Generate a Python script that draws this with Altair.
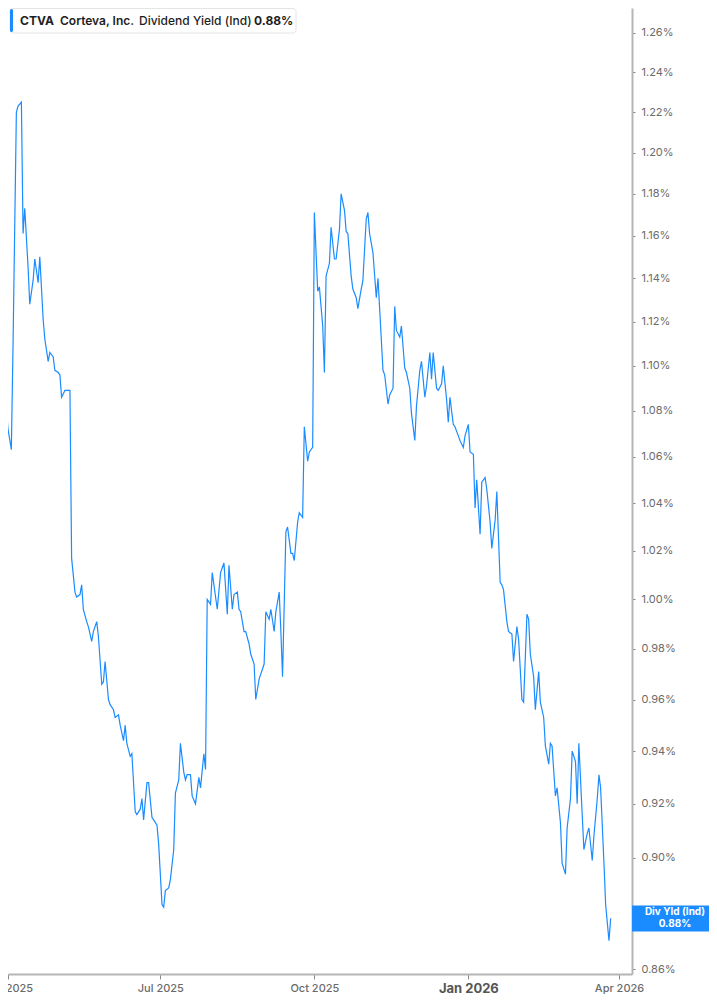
import altair as alt
import pandas as pd

# ---- data ----
dates = [
    "2025-03-27", "2025-03-29", "2025-03-31", "2025-04-01", "2025-04-03", "2025-04-04",
    "2025-04-06", "2025-04-07", "2025-04-08", "2025-04-09", "2025-04-10", "2025-04-11",
    "2025-04-13", "2025-04-14", "2025-04-16", "2025-04-17", "2025-04-19", "2025-04-20",
    "2025-04-22", "2025-04-23", "2025-04-25", "2025-04-26", "2025-04-28", "2025-04-29",
    "2025-05-01", "2025-05-02", "2025-05-03", "2025-05-05", "2025-05-06", "2025-05-08",
    "2025-05-09", "2025-05-11", "2025-05-12", "2025-05-14", "2025-05-15", "2025-05-16",
    "2025-05-18", "2025-05-19", "2025-05-21", "2025-05-22", "2025-05-24", "2025-05-25",
    "2025-05-27", "2025-05-28", "2025-05-29", "2025-05-31", "2025-06-01", "2025-06-03",
    "2025-06-04", "2025-06-06", "2025-06-07", "2025-06-09", "2025-06-10", "2025-06-11",
    "2025-06-13", "2025-06-14", "2025-06-16", "2025-06-17", "2025-06-19", "2025-06-20",
    "2025-06-21", "2025-06-23", "2025-06-24", "2025-06-26", "2025-06-27", "2025-06-29",
    "2025-06-30", "2025-07-02", "2025-07-03", "2025-07-04", "2025-07-06", "2025-07-07",
    "2025-07-09", "2025-07-10", "2025-07-12", "2025-07-13", "2025-07-15", "2025-07-16",
    "2025-07-17", "2025-07-19", "2025-07-20", "2025-07-22", "2025-07-24", "2025-07-25",
    "2025-07-27", "2025-07-28", "2025-07-29", "2025-07-31", "2025-08-01", "2025-08-03",
    "2025-08-04", "2025-08-06", "2025-08-07", "2025-08-08", "2025-08-10", "2025-08-11",
    "2025-08-13", "2025-08-14", "2025-08-16", "2025-08-17", "2025-08-18", "2025-08-20",
    "2025-08-21", "2025-08-23", "2025-08-24", "2025-08-26", "2025-08-27", "2025-08-29",
    "2025-08-30", "2025-09-01", "2025-09-02", "2025-09-04", "2025-09-05", "2025-09-07",
    "2025-09-08", "2025-09-10", "2025-09-11", "2025-09-12", "2025-09-14", "2025-09-15",
    "2025-09-17", "2025-09-18", "2025-09-19", "2025-09-21", "2025-09-22", "2025-09-24",
    "2025-09-25", "2025-09-27", "2025-09-28", "2025-09-30", "2025-10-01", "2025-10-03",
    "2025-10-04", "2025-10-06", "2025-10-07", "2025-10-08", "2025-10-10", "2025-10-11",
    "2025-10-13", "2025-10-14", "2025-10-16", "2025-10-17", "2025-10-19", "2025-10-20",
    "2025-10-21", "2025-10-23", "2025-10-24", "2025-10-26", "2025-10-27", "2025-10-29",
    "2025-10-30", "2025-11-01", "2025-11-02", "2025-11-03", "2025-11-05", "2025-11-07",
    "2025-11-08", "2025-11-09", "2025-11-11", "2025-11-12", "2025-11-14", "2025-11-15",
    "2025-11-17", "2025-11-18", "2025-11-19", "2025-11-21", "2025-11-22", "2025-11-24",
    "2025-11-25", "2025-11-27", "2025-11-28", "2025-11-30", "2025-12-01", "2025-12-03",
    "2025-12-04", "2025-12-06", "2025-12-07", "2025-12-09", "2025-12-10", "2025-12-11",
    "2025-12-13", "2025-12-14", "2025-12-16", "2025-12-17", "2025-12-19", "2025-12-20",
    "2025-12-21", "2025-12-23", "2025-12-24", "2025-12-26", "2025-12-27", "2025-12-29",
    "2025-12-30", "2026-01-01", "2026-01-02", "2026-01-04", "2026-01-05", "2026-01-06",
    "2026-01-08", "2026-01-09", "2026-01-11", "2026-01-12", "2026-01-14", "2026-01-15",
    "2026-01-17", "2026-01-18", "2026-01-20", "2026-01-21", "2026-01-22", "2026-01-24",
    "2026-01-25", "2026-01-27", "2026-01-28", "2026-01-30", "2026-01-31", "2026-02-02",
    "2026-02-03", "2026-02-05", "2026-02-06", "2026-02-07", "2026-02-09", "2026-02-10",
    "2026-02-12", "2026-02-13", "2026-02-15", "2026-02-16", "2026-02-18", "2026-02-19",
    "2026-02-20", "2026-02-22", "2026-02-23", "2026-02-25", "2026-02-26", "2026-02-28",
    "2026-03-01", "2026-03-03", "2026-03-04", "2026-03-06", "2026-03-07", "2026-03-08",
    "2026-03-10", "2026-03-11", "2026-03-13", "2026-03-14", "2026-03-16", "2026-03-17",
    "2026-03-19", "2026-03-20", "2026-03-21", "2026-03-23", "2026-03-24", "2026-03-26",
    "2026-03-27",
]

yields = [
    1.087, 1.113, 1.081, 1.072, 1.063, 1.109,
    1.220, 1.223, 1.224, 1.225, 1.161, 1.173,
    1.145, 1.128, 1.139, 1.149, 1.138, 1.150,
    1.121, 1.112, 1.102, 1.106, 1.104, 1.098,
    1.097, 1.096, 1.086, 1.089, 1.089, 1.089,
    1.017, 1.003, 1.001, 1.002, 1.006, 0.996,
    0.991, 0.989, 0.983, 0.987, 0.991, 0.985,
    0.966, 0.967, 0.975, 0.960, 0.958, 0.956,
    0.953, 0.954, 0.950, 0.944, 0.950, 0.943,
    0.938, 0.939, 0.917, 0.916, 0.918, 0.922,
    0.914, 0.928, 0.928, 0.915, 0.914, 0.912,
    0.905, 0.883, 0.882, 0.888, 0.889, 0.892,
    0.903, 0.924, 0.929, 0.943, 0.932, 0.929,
    0.931, 0.931, 0.923, 0.920, 0.930, 0.926,
    0.939, 0.933, 1.000, 0.998, 1.011, 1.001,
    0.996, 1.011, 1.013, 1.015, 0.994, 1.014,
    0.996, 1.002, 1.003, 0.996, 0.995, 0.987,
    0.987, 0.982, 0.978, 0.974, 0.960, 0.968,
    0.970, 0.974, 0.995, 0.992, 0.996, 0.987,
    0.995, 1.003, 0.987, 0.969, 1.028, 1.030,
    1.019, 1.019, 1.016, 1.032, 1.036, 1.034,
    1.073, 1.058, 1.062, 1.064, 1.171, 1.134,
    1.136, 1.118, 1.097, 1.141, 1.147, 1.164,
    1.149, 1.149, 1.163, 1.180, 1.172, 1.162,
    1.161, 1.141, 1.135, 1.131, 1.126, 1.135,
    1.139, 1.168, 1.171, 1.161, 1.152, 1.131,
    1.140, 1.126, 1.098, 1.096, 1.083, 1.087,
    1.090, 1.127, 1.116, 1.113, 1.118, 1.099,
    1.097, 1.090, 1.079, 1.067, 1.082, 1.098,
    1.102, 1.086, 1.091, 1.106, 1.094, 1.106,
    1.090, 1.089, 1.092, 1.100, 1.085, 1.075,
    1.086, 1.074, 1.073, 1.069, 1.067, 1.064,
    1.069, 1.074, 1.062, 1.061, 1.038, 1.050,
    1.027, 1.049, 1.051, 1.046, 1.032, 1.021,
    1.033, 1.045, 1.007, 1.006, 1.004, 0.991,
    0.987, 0.986, 0.975, 0.989, 0.984, 0.960,
    0.959, 0.994, 0.992, 0.978, 0.969, 0.956,
    0.971, 0.959, 0.953, 0.942, 0.935, 0.943,
    0.942, 0.923, 0.926, 0.913, 0.898, 0.894,
    0.911, 0.922, 0.940, 0.936, 0.920, 0.943,
    0.916, 0.903, 0.909, 0.911, 0.899, 0.908,
    0.922, 0.931, 0.926, 0.898, 0.883, 0.870,
    0.878,
]

y_ticks = [0.86, 0.88, 0.90, 0.92, 0.94, 0.96, 0.98, 1.00, 1.02, 1.04, 1.06,
           1.08, 1.10, 1.12, 1.14, 1.16, 1.18, 1.20, 1.22, 1.24, 1.26]
x_tick_dates = [(2025, 4), (2025, 7), (2025, 10), (2026, 1), (2026, 4)]

ticker = "CTVA"
company = "Corteva, Inc."
metric = "Dividend Yield (Ind)"
end_label = "Div Yld (Ind)"

# ---- build ----
df = pd.DataFrame({"date": dates, "yld": yields})
last = pd.DataFrame({"date": [dates[-1]], "yld": [yields[-1]]})

BLUE = "#1a8cff"
FONT = "Inter"
W, H = 624, 966

x_scale = alt.Scale(
    type="utc",
    domain=[alt.DateTime(year=2025, month=4, date=1, utc=True),
            alt.DateTime(year=2026, month=4, date=8, hours=18, utc=True)],
)
y_scale = alt.Scale(type="log", domain=[0.8583, 1.2729], nice=False)

x_axis = alt.Axis(
    values=[alt.DateTime(year=y, month=m, date=1, utc=True) for y, m in x_tick_dates],
    format="%b %Y", title=None, grid=False,
    domainColor="#b5b5b5", domainWidth=2,
    tickColor="#8a8a8a", tickSize=5, tickWidth=1,
    labelFont=FONT, labelPadding=3,
    labelColor={"condition": {"test": "utcmonth(datum.value) == 0", "value": "#555555"}, "value": "#6b6b6b"},
    labelFontSize={"condition": {"test": "utcmonth(datum.value) == 0", "value": 13}, "value": 11},
    labelFontWeight={"condition": {"test": "utcmonth(datum.value) == 0", "value": "bold"}, "value": 500},
    labelOverlap=False, labelFlush=False,
)
# the label under the end-of-line tag is hidden, as in the reference
y_axis = alt.Axis(
    orient="right", values=y_ticks, title=None, grid=False,
    labelExpr="abs(datum.value - 0.88) < 0.001 ? '' : format(datum.value, '.2f') + '%'",
    domainColor="#b5b5b5", domainWidth=2,
    tickColor="#8a8a8a", tickSize=3, tickWidth=1,
    labelFont=FONT, labelFontSize=11, labelColor="#6b6b6b", labelPadding=6,
    labelOverlap=False,
)

line = alt.Chart(df).mark_line(color=BLUE, strokeWidth=1.2, clip=True).encode(
    x=alt.X("date:T", scale=x_scale, axis=x_axis),
    y=alt.Y("yld:Q", scale=y_scale, axis=y_axis),
)

# header legend box
box = alt.Chart(last).mark_rect(fill="white", stroke="#e4e4e4", strokeWidth=1, cornerRadius=3).encode(
    x=alt.value(2), x2=alt.value(288), y=alt.value(0.5), y2=alt.value(25)
)
accent = alt.Chart(last).mark_rect(fill=BLUE, cornerRadius=1.5).encode(
    x=alt.value(2), x2=alt.value(5), y=alt.value(1), y2=alt.value(24)
)

def head_text(txt, xpos, weight):
    return alt.Chart(last).mark_text(
        align="left", baseline="middle", font=FONT, fontSize=12,
        fontWeight=weight, color="#1e1e1e", text=txt,
    ).encode(x=alt.value(xpos), y=alt.value(13))

t1 = head_text(ticker, 12, "bold")
t2 = head_text(company, 52, 600)
t3 = head_text(metric, 131, 500)
t4 = alt.Chart(last).transform_calculate(
    lab="format(datum.yld, '.2f') + '%'"
).mark_text(
    align="left", baseline="middle", font=FONT, fontSize=12,
    fontWeight="bold", color="#1e1e1e",
).encode(x=alt.value(246), y=alt.value(13), text="lab:N")

# end-of-line value tag on the right axis
tag = alt.Chart(last).mark_rect(fill=BLUE, yOffset=-13, y2Offset=13).encode(
    x=alt.value(W), x2=alt.value(W + 77),
    y=alt.Y("yld:Q", scale=y_scale, axis=y_axis), y2="yld:Q",
)
tag_t1 = alt.Chart(last).mark_text(
    align="center", baseline="middle", font=FONT, fontSize=10,
    fontWeight="bold", color="white", dy=-6, text=end_label,
).encode(x=alt.value(W + 43), y=alt.Y("yld:Q", scale=y_scale, axis=y_axis))
tag_t2 = alt.Chart(last).transform_calculate(
    lab="format(datum.yld, '.2f') + '%'"
).mark_text(
    align="center", baseline="middle", font=FONT, fontSize=10,
    fontWeight="bold", color="white", dy=6,
).encode(x=alt.value(W + 43), y=alt.Y("yld:Q", scale=y_scale, axis=y_axis), text="lab:N")

chart = alt.layer(line, box, accent, t1, t2, t3, t4, tag, tag_t1, tag_t2).properties(
    width=W, height=H,
    autosize=alt.AutoSizeParams(type="none"),
    padding={"left": 0, "top": 0, "right": 77, "bottom": 20},
    background="white",
).configure_view(stroke=None)

chart.save("out.html", embed_options={"renderer": "svg", "actions": False})
